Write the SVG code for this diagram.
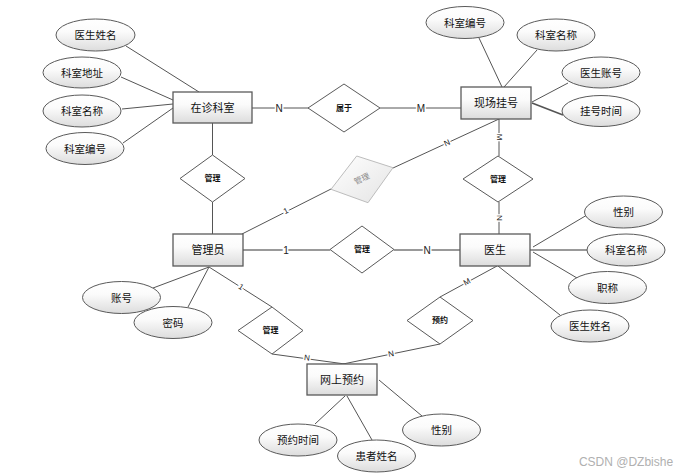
<svg xmlns="http://www.w3.org/2000/svg" width="689" height="476" viewBox="0 0 689 476">
<defs>
<linearGradient id="g" x1="0" y1="0" x2="0" y2="1">
<stop offset="0" stop-color="#ffffff"/>
<stop offset="0.4" stop-color="#fbfbfb"/>
<stop offset="1" stop-color="#dcdcdc"/>
</linearGradient>
<linearGradient id="gd" x1="0" y1="0" x2="1" y2="1">
<stop offset="0" stop-color="#ffffff"/>
<stop offset="1" stop-color="#e4e4e4"/>
</linearGradient>
</defs>
<style>
text{font-family:"Liberation Sans","Noto Sans CJK SC",sans-serif;fill:#111;text-anchor:middle;dominant-baseline:central}
.ent rect{fill:url(#g);stroke:#5a5a5a;stroke-width:1.3}
.ent text{font-size:11px}
.att ellipse{fill:url(#g);stroke:#5a5a5a;stroke-width:1}
.att text{font-size:10.5px}
.rel polygon{fill:#fff;stroke:#5a5a5a;stroke-width:1}
.rel text{font-size:8px;font-weight:bold}
.lines line{stroke:#555;stroke-width:1}
.lbl{font-size:10px;stroke:#fff;stroke-width:3;paint-order:stroke;fill:#222}
.sl{font-size:8px}
</style>
<rect width="689" height="476" fill="#fff"/>
<g id="connectors" class="lines">
<line x1="126" y1="46" x2="199" y2="92"/>
<line x1="121" y1="77" x2="173" y2="100"/>
<line x1="122" y1="109" x2="173" y2="104"/>
<line x1="123" y1="143" x2="173" y2="108"/>
<line x1="252" y1="108" x2="309" y2="108"/>
<line x1="380" y1="108" x2="461" y2="108"/>
<line x1="212.5" y1="123" x2="212.5" y2="155"/>
<line x1="212.5" y1="202" x2="212.5" y2="234"/>
<line x1="242" y1="234" x2="331" y2="189"/>
<line x1="393" y1="168" x2="499" y2="119"/>
<line x1="479" y1="38" x2="502" y2="87"/>
<line x1="537" y1="50" x2="504" y2="87"/>
<line x1="568" y1="83" x2="532" y2="102"/>
<line x1="563" y1="115" x2="532" y2="103" style="stroke-width:1.6"/>
<line x1="499" y1="119" x2="499" y2="156"/>
<line x1="499" y1="202" x2="499" y2="234"/>
<line x1="243" y1="250" x2="330" y2="250" style="stroke-width:1.4;stroke:#777"/>
<line x1="394" y1="250" x2="460" y2="250" style="stroke-width:1.4;stroke:#777"/>
<line x1="533" y1="247" x2="587" y2="215"/>
<line x1="530" y1="250" x2="587" y2="250" style="stroke-width:1.6;stroke:#777"/>
<line x1="533" y1="252" x2="577" y2="278"/>
<line x1="498" y1="266" x2="560" y2="315"/>
<line x1="153" y1="288" x2="209" y2="267"/>
<line x1="188" y1="307" x2="209" y2="267"/>
<line x1="209" y1="267" x2="272" y2="307"/>
<line x1="272" y1="354" x2="345" y2="364"/>
<line x1="497" y1="266" x2="440" y2="297"/>
<line x1="440" y1="344" x2="343" y2="364"/>
<line x1="315" y1="424" x2="345" y2="396"/>
<line x1="372" y1="440" x2="347" y2="396"/>
<line x1="422" y1="416" x2="379" y2="380"/>
<text class="lbl" x="279" y="108">N</text>
<text class="lbl" x="421" y="108">M</text>
<text class="lbl sl" x="286" y="211" transform="rotate(-26 286 211)">1</text>
<text class="lbl sl" x="447" y="143" transform="rotate(-24.6 447 143)">N</text>
<text class="lbl sl" x="499" y="137" transform="rotate(90 499 137)">M</text>
<text class="lbl sl" x="499" y="218" transform="rotate(90 499 218)">N</text>
<text class="lbl" x="286" y="250">1</text>
<text class="lbl" x="427" y="250">N</text>
<text class="lbl sl" x="241" y="287" transform="rotate(32 241 287)">1</text>
<text class="lbl sl" x="307" y="358" transform="rotate(8 307 358)">N</text>
<text class="lbl sl" x="467" y="282" transform="rotate(-28.5 467 282)">M</text>
<text class="lbl sl" x="391" y="354" transform="rotate(-11.6 391 354)">N</text>
</g>
<g id="e-zaizhen" class="ent"><rect x="173" y="92" width="79" height="31"/><text x="212.5" y="107.5">在诊科室</text></g>
<g id="e-xianchang" class="ent"><rect x="461" y="87" width="70" height="32"/><text x="496" y="103">现场挂号</text></g>
<g id="e-admin" class="ent"><rect x="173" y="234" width="70" height="32"/><text x="208" y="250">管理员</text></g>
<g id="e-doctor" class="ent"><rect x="460" y="234" width="70" height="32"/><text x="495" y="250">医生</text></g>
<g id="e-online" class="ent"><rect x="307" y="364" width="70" height="31"/><text x="342" y="380">网上预约</text></g>
<g id="a-ysxm1" class="att"><ellipse cx="95.5" cy="35" rx="39.5" ry="16"/><text x="95.5" y="35">医生姓名</text></g>
<g id="a-ksdz" class="att"><ellipse cx="82" cy="72.5" rx="39" ry="15.5"/><text x="82" y="72.5">科室地址</text></g>
<g id="a-ksmc1" class="att"><ellipse cx="82" cy="111" rx="39" ry="16"/><text x="82" y="111">科室名称</text></g>
<g id="a-ksbh1" class="att"><ellipse cx="85" cy="148.5" rx="39" ry="16"/><text x="85" y="148.5">科室编号</text></g>
<g id="a-ksbh2" class="att"><ellipse cx="465" cy="22.5" rx="39" ry="16"/><text x="465" y="22.5">科室编号</text></g>
<g id="a-ksmc2" class="att"><ellipse cx="556" cy="35" rx="39" ry="16"/><text x="556" y="35">科室名称</text></g>
<g id="a-yszh" class="att"><ellipse cx="601" cy="72.5" rx="39" ry="15.5"/><text x="601" y="72.5">医生账号</text></g>
<g id="a-ghsj" class="att"><ellipse cx="601" cy="111" rx="39" ry="15.5"/><text x="601" y="111">挂号时间</text></g>
<g id="a-xb1" class="att"><ellipse cx="623.5" cy="212" rx="39" ry="16"/><text x="623.5" y="212">性别</text></g>
<g id="a-ksmc3" class="att"><ellipse cx="626" cy="250" rx="39" ry="16"/><text x="626" y="250">科室名称</text></g>
<g id="a-zc" class="att"><ellipse cx="607.5" cy="287.5" rx="39" ry="16"/><text x="607.5" y="287.5">职称</text></g>
<g id="a-ysxm2" class="att"><ellipse cx="590" cy="326" rx="39" ry="16"/><text x="590" y="326">医生姓名</text></g>
<g id="a-zh" class="att"><ellipse cx="121.5" cy="297.5" rx="39" ry="16"/><text x="121.5" y="297.5">账号</text></g>
<g id="a-mm" class="att"><ellipse cx="173" cy="322.5" rx="39" ry="16"/><text x="173" y="322.5">密码</text></g>
<g id="a-yysj" class="att"><ellipse cx="298" cy="440" rx="39" ry="16"/><text x="298" y="440">预约时间</text></g>
<g id="a-hzxm" class="att"><ellipse cx="376.5" cy="456" rx="39" ry="16"/><text x="376.5" y="456">患者姓名</text></g>
<g id="a-xb2" class="att"><ellipse cx="441.5" cy="430" rx="39" ry="16"/><text x="441.5" y="430">性别</text></g>
<g id="r-shuyu" class="rel"><polygon points="344,84 380,108 344,132 308,108"/><text x="344" y="108">属于</text></g>
<g id="r-guanli1" class="rel"><polygon points="212.5,155 245,178.5 212.5,202 180,178.5"/><text x="212.5" y="178.5">管理</text></g>
<g id="r-guanli2" class="rel"><polygon points="498,156 533,179 498,202 463,179"/><text x="498" y="179">管理</text></g>
<g id="r-guanli3" class="rel"><polygon points="362,226 394,249.5 362,273 330,249.5"/><text x="362" y="249.5">管理</text></g>
<g id="r-guanli4" class="rel"><polygon points="272,307 303,330.5 272,354 238,330.5"/><text x="270.5" y="330.5">管理</text></g>
<g id="r-yuyue" class="rel"><polygon points="440,297 473,320.5 440,344 407,320.5"/><text x="440" y="320.5">预约</text></g>
<g id="r-guanli-gray" class="rel"><polygon points="356.7,156 393,167.7 368,202.7 331,189.3" style="fill:url(#gd);stroke:#bdbdbd"/><text x="362" y="179" transform="rotate(-25 362 179)" style="fill:#888;font-weight:normal">管理</text></g>
<text x="626" y="462" style="font-size:12px;fill:#b0b0b0">CSDN @DZbishe</text>
</svg>
